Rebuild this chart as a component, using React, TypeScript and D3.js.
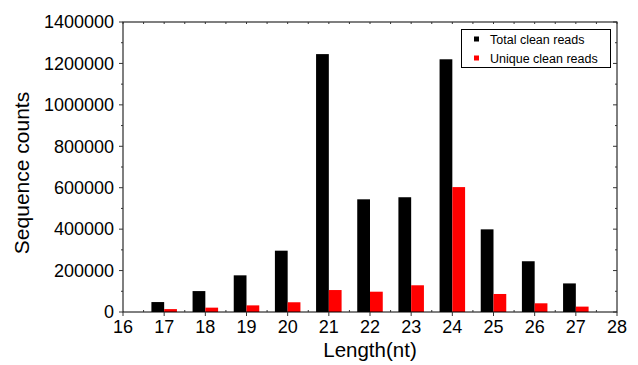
import React, { useRef, useEffect } from 'react';
import * as d3 from 'd3';

const lengths = [17, 18, 19, 20, 21, 22, 23, 24, 25, 26, 27];
const totalReads = [48000, 101000, 177000, 296000, 1245000, 544000, 554000, 1220000, 399000, 245000, 138000];
const uniqueReads = [14000, 21000, 32000, 47000, 106000, 98000, 129000, 603000, 87000, 42000, 26000];
const seriesNames = ['Total clean reads', 'Unique clean reads'];
const seriesColors = ['#000000', '#ff0000'];
const yTicks = [0, 200000, 400000, 600000, 800000, 1000000, 1200000, 1400000];
const xTicks = [16, 17, 18, 19, 20, 21, 22, 23, 24, 25, 26, 27, 28];

export default function App() {
    const ref = useRef<SVGSVGElement>(null);

    useEffect(() => {
        const svg = d3.select(ref.current);
        svg.selectAll('*').remove();

        const width = 638, height = 365;
        const margin = { top: 22, right: 21, bottom: 53, left: 123 };
        const font = 'Arial, "Liberation Sans", sans-serif';

        const x = d3.scaleLinear().domain([16, 28]).range([margin.left, width - margin.right]);
        const y = d3.scaleLinear().domain([0, 1400000]).range([height - margin.bottom, margin.top]);
        const barW = (x(1) - x(0)) * 0.31;

        const [x0, x1] = x.range();
        const [y0, y1] = y.range();

        // bars
        const g = svg.append('g');
        g.selectAll('rect.total')
            .data(lengths)
            .join('rect')
            .attr('x', (d) => x(d) - barW)
            .attr('y', (d, i) => y(totalReads[i]))
            .attr('width', barW)
            .attr('height', (d, i) => y(0) - y(totalReads[i]))
            .attr('fill', seriesColors[0]);
        g.selectAll('rect.unique')
            .data(lengths)
            .join('rect')
            .attr('x', (d) => x(d))
            .attr('y', (d, i) => y(uniqueReads[i]))
            .attr('width', barW)
            .attr('height', (d, i) => y(0) - y(uniqueReads[i]))
            .attr('fill', seriesColors[1]);

        // frame
        svg.append('rect')
            .attr('x', x0).attr('y', y1)
            .attr('width', x1 - x0).attr('height', y0 - y1)
            .attr('fill', 'none').attr('stroke', '#000').attr('stroke-width', 1);

        const ax = svg.append('g').attr('stroke', '#333').attr('stroke-width', 1);
        // left + right ticks
        d3.range(0, 1400001, 100000).forEach((v) => {
            const major = v % 200000 === 0;
            ax.append('line').attr('x1', x0).attr('x2', x0 - (major ? 4 : 2)).attr('y1', y(v)).attr('y2', y(v));
            ax.append('line').attr('x1', x1).attr('x2', x1 - (major ? 4 : 2)).attr('y1', y(v)).attr('y2', y(v));
        });
        // bottom + top ticks
        d3.range(16, 28.01, 0.5).forEach((v) => {
            const major = Number.isInteger(v);
            ax.append('line').attr('x1', x(v)).attr('x2', x(v)).attr('y1', y0).attr('y2', y0 + (major ? 4 : -2));
            ax.append('line').attr('x1', x(v)).attr('x2', x(v)).attr('y1', y1).attr('y2', y1 + 2);
        });

        // tick labels
        svg.append('g').selectAll('text')
            .data(yTicks)
            .join('text')
            .attr('x', x0 - 9)
            .attr('y', (d) => y(d))
            .attr('dy', '0.35em')
            .attr('text-anchor', 'end')
            .attr('font-family', font)
            .attr('font-size', 18)
            .text((d) => String(d));
        svg.append('g').selectAll('text')
            .data(xTicks)
            .join('text')
            .attr('x', (d) => x(d))
            .attr('y', y0 + 21)
            .attr('text-anchor', 'middle')
            .attr('font-family', font)
            .attr('font-size', 18)
            .text((d) => String(d));

        // axis titles
        svg.append('text')
            .attr('x', (x0 + x1) / 2)
            .attr('y', 357)
            .attr('text-anchor', 'middle')
            .attr('font-family', font)
            .attr('font-size', 20.5)
            .text('Length(nt)');
        svg.append('text')
            .attr('transform', `translate(29, 173) rotate(-90)`)
            .attr('text-anchor', 'middle')
            .attr('font-family', font)
            .attr('font-size', 21)
            .text('Sequence counts');

        // legend
        const lg = svg.append('g');
        lg.append('rect')
            .attr('x', 461.5).attr('y', 29.5)
            .attr('width', 149).attr('height', 38)
            .attr('fill', '#fff').attr('stroke', '#000').attr('stroke-width', 1);
        seriesNames.forEach((name, i) => {
            const cy = 39.5 + i * 19;
            lg.append('rect')
                .attr('x', 474).attr('y', cy - 3)
                .attr('width', 5).attr('height', 5)
                .attr('fill', seriesColors[i]);
            lg.append('text')
                .attr('x', 490).attr('y', cy)
                .attr('dy', '0.35em')
                .attr('font-family', font)
                .attr('font-size', 12.5)
                .text(name);
        });
    }, []);

    return (
        <svg ref={ref} width={638} height={365}
            style={{ position: 'absolute', left: 0, top: 0, background: '#fff' }} />
    );
}
